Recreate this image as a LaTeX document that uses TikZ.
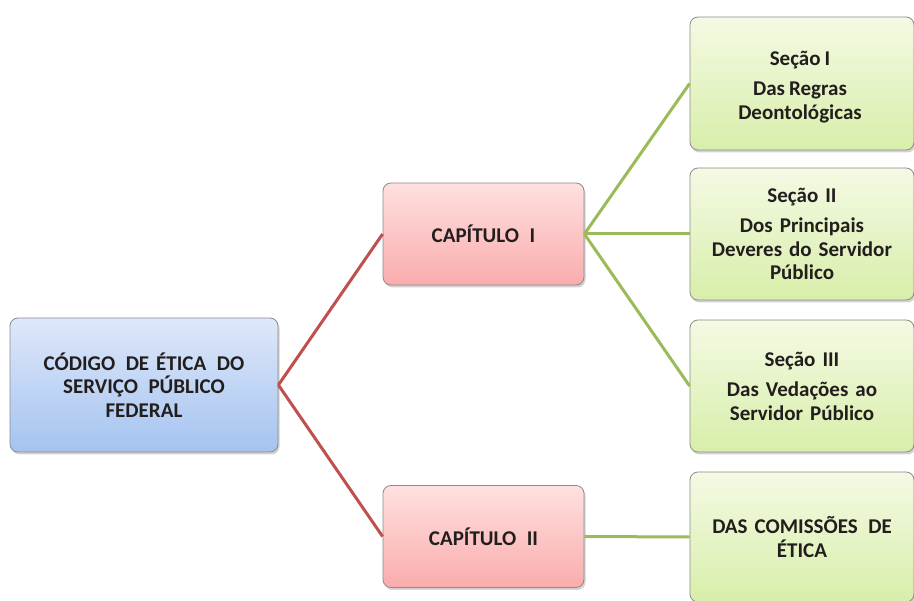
\documentclass[tikz,border=0pt]{standalone}
\usepackage{fontspec}
\setmainfont{Carlito}[WordSpace=0.85]
\usetikzlibrary{shadows}
\definecolor{txt}{RGB}{35,30,30}
\definecolor{redline}{RGB}{192,80,77}
\definecolor{greenline}{RGB}{155,187,89}
\definecolor{boxborder}{RGB}{140,140,140}
\tikzset{
  box/.style={draw=boxborder, line width=0.8pt, rounded corners=8pt, align=center,
    font=\fontsize{21}{23.5}\selectfont\bfseries, text=txt,
    drop shadow={shadow xshift=1.5pt, shadow yshift=-2.5pt, opacity=0.35}},
  rootbox/.style={box, top color={rgb,255:red,222;green,232;blue,250}, bottom color={rgb,255:red,165;green,195;blue,240},
    minimum width=268pt, minimum height=134pt, text width=250pt},
  capbox/.style={box, top color={rgb,255:red,255;green,224;blue,224}, bottom color={rgb,255:red,250;green,172;blue,172},
    minimum width=201pt, minimum height=102pt, text width=190pt},
  secbox/.style={box, top color={rgb,255:red,244;green,250;blue,228}, bottom color={rgb,255:red,216;green,238;blue,170},
    minimum width=224pt, minimum height=132pt, text width=216pt},
  redconn/.style={draw=redline, line width=3pt},
  greenconn/.style={draw=greenline, line width=3pt}
}
\begin{document}
\begin{tikzpicture}[x=1pt,y=-1pt]
\useasboundingbox[fill=white] (0,0) rectangle (914,601);
\node[rootbox] (root) at (144,385) {CÓDIGO\, DE ÉTICA\, DO\\SERVIÇO\, PÚBLICO\\FEDERAL};
\node[capbox] (cap1) at (483.5,234) {CAPÍTULO\, I};
\node[capbox] (cap2) at (483.5,536.5) {CAPÍTULO\, II};
\node[secbox, minimum height=133pt] (s1) at (802,83.5) {};
\node[align=center, font=\fontsize{21}{23.5}\selectfont\bfseries, text=txt] (t1) at (800,87) {Seção I\\[7pt]Das Regras\\Deontológicas};
\node[secbox] (s2) at (802,234) {Seção II\\[7pt]Dos Principais\\Deveres do Servidor\\Público};
\node[secbox] (s3) at (802,386) {Seção III\\[7pt]Das Vedações ao\\Servidor Público};
\node[secbox, minimum height=130pt] (s4) at (802,537) {DAS COMISSÕES\, DE\\ÉTICA};
\path[redconn] (root.east) -- (cap1.west);
\path[redconn] (root.east) -- (cap2.west);
\path[greenconn] (cap1.east) -- (s1.west);
\path[greenconn] (cap1.east) -- (s2.west);
\path[greenconn] (cap1.east) -- (s3.west);
\path[greenconn] (cap2.east) -- (s4.west);
\end{tikzpicture}
\end{document}
